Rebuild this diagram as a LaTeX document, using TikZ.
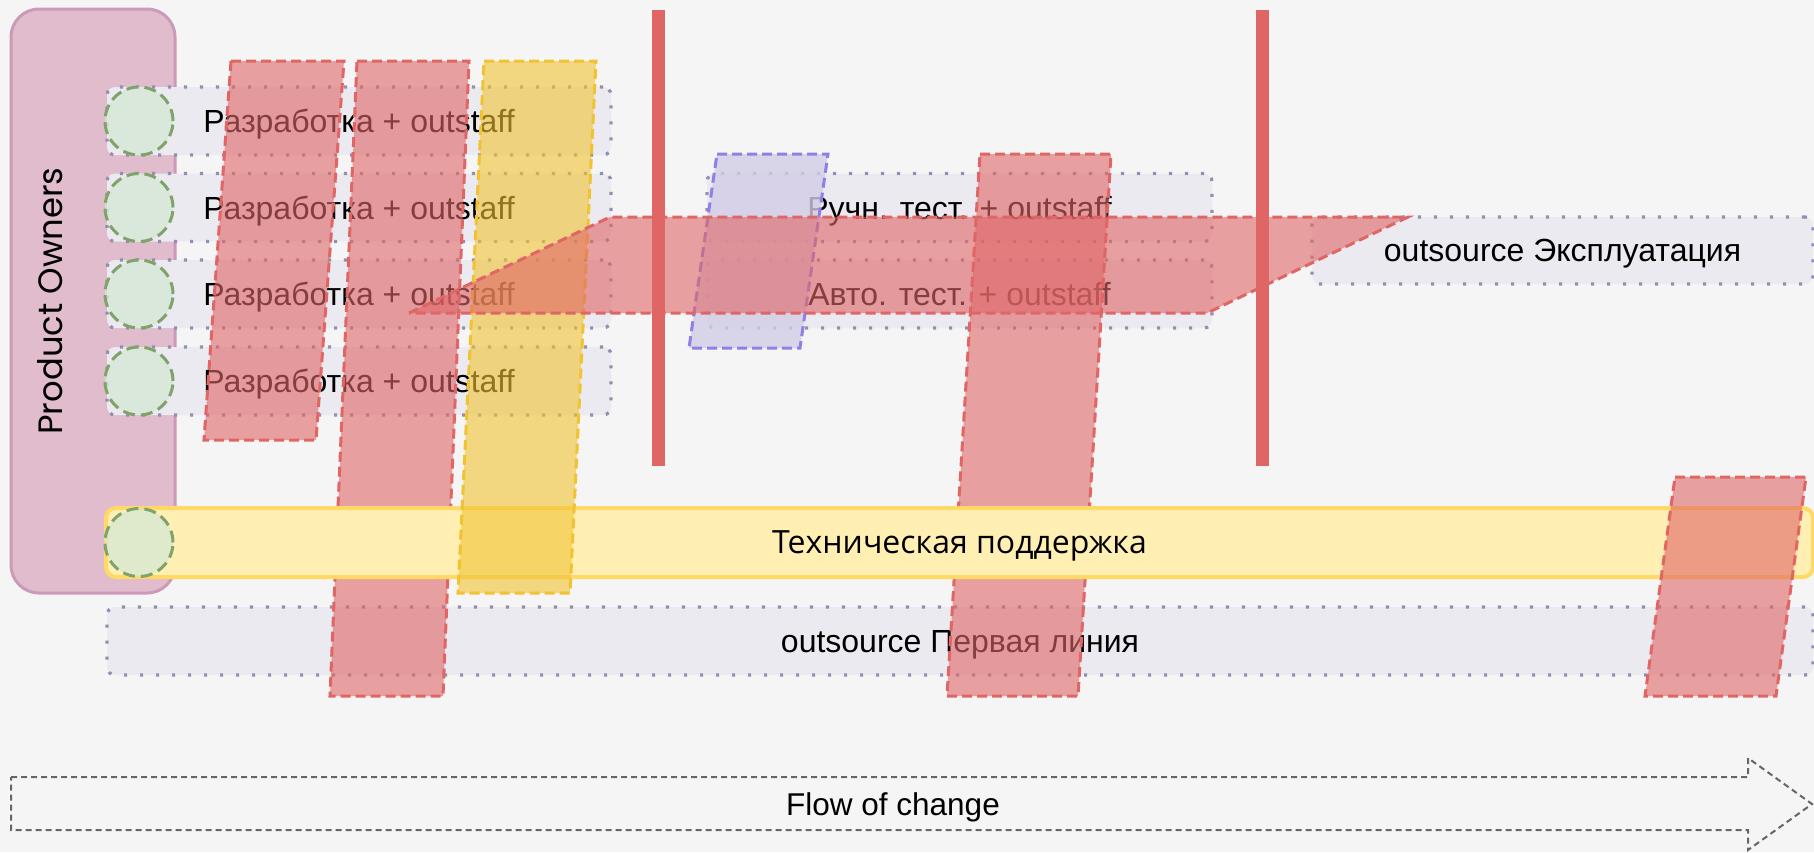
\documentclass[tikz,border=0pt]{standalone}
\usepackage{fontspec}
\setmainfont{Liberation Sans}
\newfontfamily\opensans{Open Sans}
\newfontfamily\poppins{Poppins}
\definecolor{bg}{HTML}{F5F5F5}
\definecolor{pofill}{HTML}{E0BCCD}
\definecolor{poline}{HTML}{CC99B8}
\definecolor{rowfill}{HTML}{EBEAF0}
\definecolor{rowline}{HTML}{9290B0}
\definecolor{greenfill}{HTML}{D5E8D4}
\definecolor{greenline}{HTML}{7FA36A}
\definecolor{redc}{HTML}{E06666}
\definecolor{yelc}{HTML}{F1C232}
\definecolor{purfill}{HTML}{D2CDE6}
\definecolor{purline}{HTML}{9080E6}
\definecolor{barfill}{HTML}{FFEFB3}
\definecolor{barline}{HTML}{FFD966}
\definecolor{arrowc}{HTML}{666666}
\begin{document}
\begin{tikzpicture}[x=0.5pt,y=-0.5pt,
  pobox/.style={rectangle, draw=poline, fill=pofill, line width=1.5pt, rounded corners=14pt, minimum width=82pt, minimum height=292pt, inner sep=0pt},
  rowbox/.style={rectangle, draw=rowline, fill=rowfill, line width=1.6pt, dash pattern=on 1.6pt off 6.4pt, rounded corners=4pt, minimum height=34pt, inner sep=0pt, text depth=0pt, font=\fontsize{16}{19}\selectfont},
  pcircle/.style={circle, draw=greenline, fill=greenfill, fill opacity=0.75, line width=1.5pt, dash pattern=on 6pt off 3pt, minimum size=34pt, inner sep=0pt},
  redpara/.style={draw=redc, fill=redc, fill opacity=0.6, line width=1.5pt, dash pattern=on 5pt off 2.5pt},
  yelpara/.style={draw=yelc, fill=yelc, fill opacity=0.6, line width=1.5pt, dash pattern=on 5pt off 2.5pt},
  purpara/.style={draw=purline, fill=purfill, fill opacity=0.8, line width=1.5pt, dash pattern=on 5pt off 2.5pt},
  gate/.style={fill=redc},
  barbox/.style={rectangle, draw=barline, fill=barfill, line width=2pt, rounded corners=5pt, minimum width=853.5pt, minimum height=34.5pt, inner sep=0pt, text depth=0pt, font=\opensans\fontsize{16}{19}\selectfont},
  flowarrow/.style={draw=arrowc, line width=1pt, dash pattern=on 3pt off 2pt},
  flowtext/.style={font=\fontsize{15.75}{18}\selectfont, inner sep=0pt, text depth=0pt}
]
\fill[bg] (0,0) rectangle (1814,852);
\useasboundingbox (0,0) rectangle (1814,852);

% Product owners
\node[pobox] (po) at (93,301) {};
\node[rotate=90, inner sep=0pt, font=\poppins\fontsize{16.9}{20}\selectfont] (potext) at (50,301) {Product Owners};

% rows
\node[rowbox, minimum width=252pt] (dev1) at (359,121) {Разработка + outstaff};
\node[rowbox, minimum width=252pt] (dev2) at (359,207.5) {Разработка + outstaff};
\node[rowbox, minimum width=252pt] (dev3) at (359,294) {Разработка + outstaff};
\node[rowbox, minimum width=252pt] (dev4) at (359,381) {Разработка + outstaff};
\node[rowbox, minimum width=252.5pt] (manual) at (959.5,207.5) {Ручн. тест. + outstaff};
\node[rowbox, minimum width=252.5pt] (autot) at (959.5,294) {Авто. тест. + outstaff};
\node[rowbox, minimum width=250.5pt, minimum height=33.5pt] (ops) at (1562.5,250.5) {outsource Эксплуатация};
\node[rowbox, minimum width=853pt] (firstline) at (960,641) {outsource Первая линия};

% circles
\node[pcircle] (c1) at (139,121) {};
\node[pcircle] (c2) at (139,207.5) {};
\node[pcircle] (c3) at (139,294) {};
\node[pcircle] (c4) at (139,381) {};

% red vertical parallelograms
\path[redpara] (231,61) -- (344,61) -- (316,440) -- (204,440) -- cycle;
\path[redpara] (357,61) -- (469,61) -- (443,696) -- (330,696) -- cycle;
\path[redpara] (980,154) -- (1111,154) -- (1078,696) -- (947,696) -- cycle;

% purple
\path[purpara] (717,154) -- (828,154) -- (800,348) -- (689,348) -- cycle;

% support bar
\node[barbox] (support) at (959.5,542.5) {Техническая поддержка};
\node[pcircle] (c5) at (139,542.5) {};

% yellow
\path[yelpara] (484,61) -- (596,61) -- (570,593) -- (458,593) -- cycle;

% horizontal red
\path[redpara] (409,313) -- (610,217) -- (1408,217) -- (1207,313) -- cycle;

% right red
\path[redpara] (1675,477) -- (1806,477) -- (1776,696) -- (1645,696) -- cycle;

% gates
\fill[gate] (652,10) rectangle (665,466);
\fill[gate] (1256,10) rectangle (1269,466);

% flow arrow
\path[flowarrow] (11,777) -- (1748,777) -- (1748,758) -- (1812,804) -- (1748,850) -- (1748,830) -- (11,830) -- cycle;
\node[flowtext] (flow) at (893,804) {Flow of change};
\end{tikzpicture}
\end{document}
